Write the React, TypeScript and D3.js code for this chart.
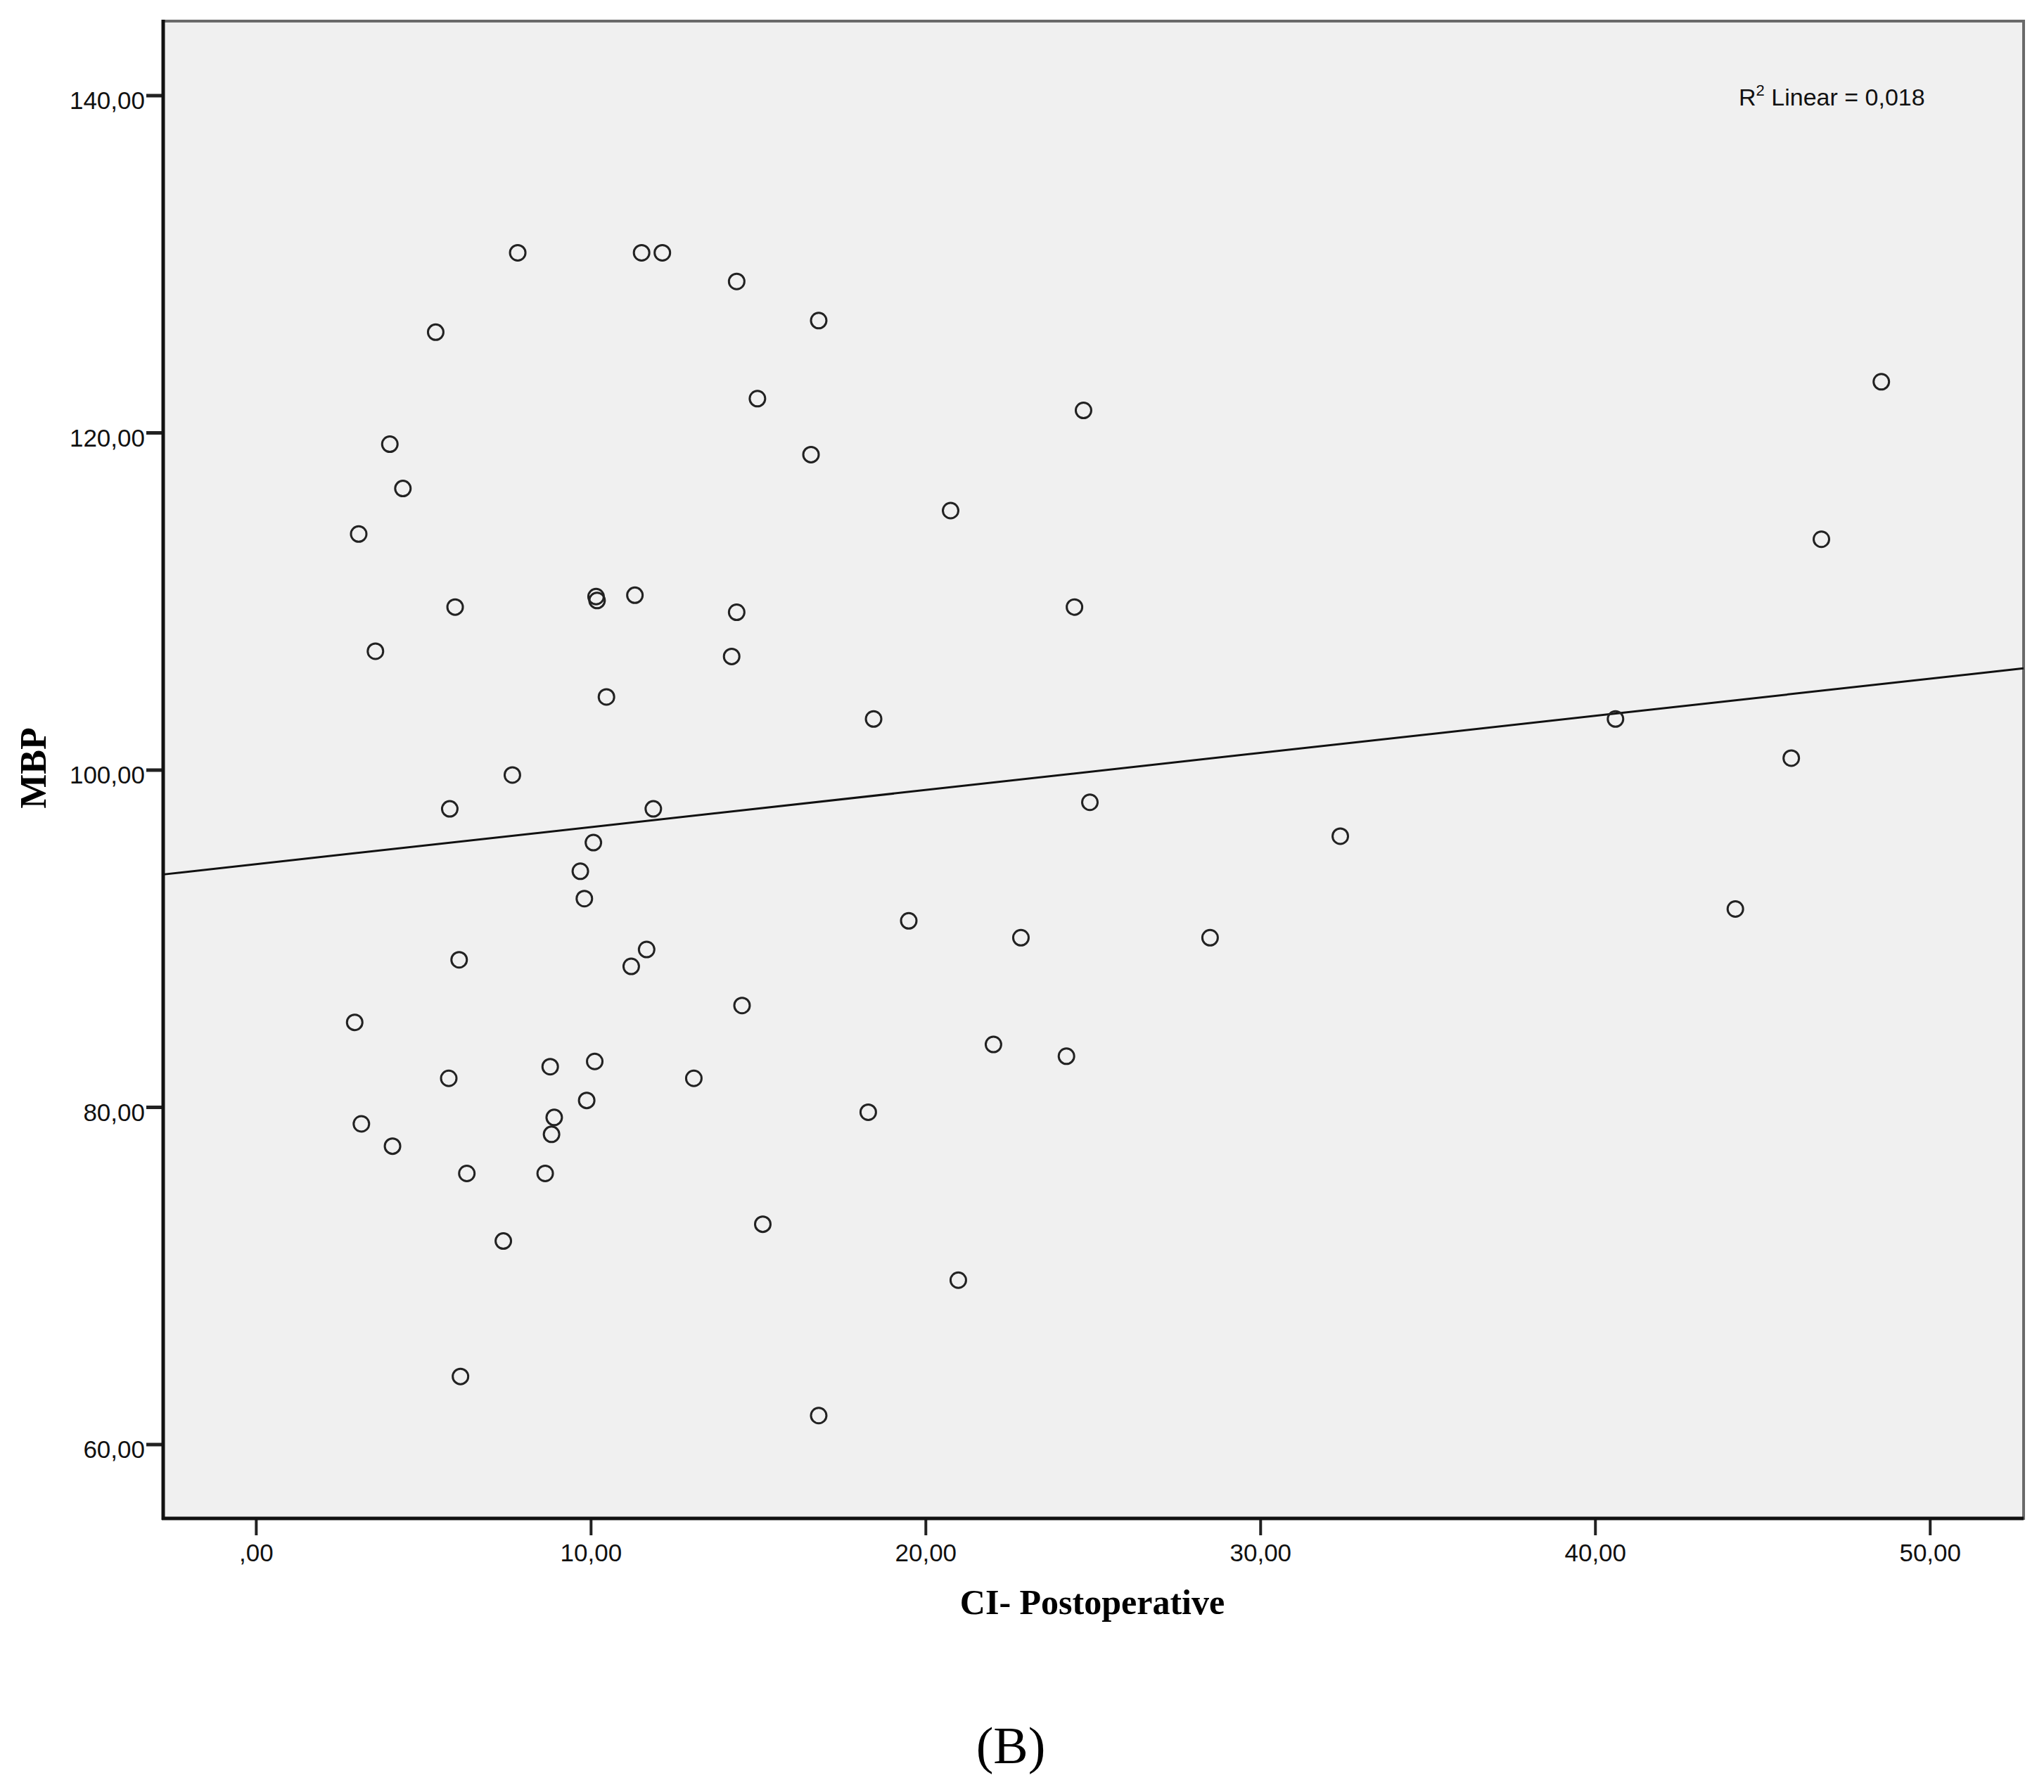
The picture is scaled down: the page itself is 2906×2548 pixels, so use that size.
import React, { useEffect, useRef } from 'react';
import * as d3 from 'd3';

// CI- Postoperative (x) and MBP (y)
const ciPostop = [
  7.82, 11.52, 12.14, 14.36, 16.81, 5.37, 14.98, 48.55, 24.72, 4.0,
  16.58, 4.39, 20.75, 3.07, 46.76, 10.16, 10.19, 11.32, 5.95, 14.36,
  24.45, 3.57, 14.21, 10.47, 18.45, 40.61, 45.86, 7.66, 5.79, 11.87,
  24.91, 10.08, 32.39, 9.69, 9.81, 44.19, 19.5, 22.85, 28.5, 6.07,
  11.67, 11.21, 14.52, 2.95, 22.03, 24.21, 10.12, 8.79, 5.76, 13.08,
  9.88, 18.29, 8.91, 3.15, 8.83, 4.08, 6.3, 8.64, 15.14, 7.39,
  20.98, 6.11, 16.81,
];
const mbp = [
  130.66, 130.66, 130.66, 128.96, 126.64, 125.95, 122.01, 123.01, 121.31, 119.31,
  118.69, 116.68, 115.37, 113.98, 113.67, 110.27, 110.04, 110.35, 109.65, 109.34,
  109.65, 107.03, 106.72, 104.32, 103.01, 103.01, 100.69, 99.69, 97.68, 97.68,
  98.07, 95.68, 96.06, 93.98, 92.36, 91.74, 91.04, 90.04, 90.04, 88.73,
  89.34, 88.34, 86.02, 85.02, 83.71, 83.01, 82.7, 82.39, 81.7, 81.7,
  80.39, 79.69, 79.38, 79.0, 78.38, 77.68, 76.06, 76.06, 73.05, 72.05,
  69.73, 64.02, 61.7,
];

const xTicks = [0, 10, 20, 30, 40, 50];
const yTicks = [60, 80, 100, 120, 140];

// fitted line as shown in the figure
const fitIntercept = 94.4;
const fitSlope = 0.22;
const r2Label = '0,018';

const fmt = (v: number) => {
  const s = v.toFixed(2).replace('.', ',');
  return s.startsWith('0,') ? s.slice(1) : s;
};

const ScatterChart: React.FC = () => {
  const svgRef = useRef<SVGSVGElement>(null);
  const width = 2906;
  const height = 2548;

  useEffect(() => {
    if (!svgRef.current) return;
    const svg = d3.select(svgRef.current);
    svg.selectAll('*').remove();

    const plot = { left: 232, top: 30, right: 2877, bottom: 2159 };

    const x = d3.scaleLinear().domain([-2.77, 52.8]).range([plot.left, plot.right]);
    const y = d3.scaleLinear().domain([55.6, 144.4]).range([plot.bottom, plot.top]);

    svg.append('rect').attr('width', width).attr('height', height).attr('fill', '#ffffff');

    svg
      .append('rect')
      .attr('x', plot.left)
      .attr('y', plot.top)
      .attr('width', plot.right - plot.left)
      .attr('height', plot.bottom - plot.top)
      .attr('fill', '#f0f0f0')
      .attr('stroke', '#6a6a6a')
      .attr('stroke-width', 4);

    // axes (SPSS style: black left/bottom lines, outward ticks)
    const xAxis = svg
      .append('g')
      .attr('transform', `translate(0,${plot.bottom})`)
      .call(
        d3
          .axisBottom(x)
          .tickValues(xTicks)
          .tickSize(24)
          .tickPadding(12)
          .tickFormat((d) => fmt(d as number))
      );
    xAxis.select('.domain').remove();
    xAxis.selectAll('line').attr('stroke', '#222').attr('stroke-width', 4);
    xAxis
      .selectAll('text')
      .attr('font-family', '"Liberation Sans", Arial, sans-serif')
      .attr('font-size', 35)
      .attr('fill', '#111');

    const yAxis = svg
      .append('g')
      .attr('transform', `translate(${plot.left},0)`)
      .call(
        d3
          .axisLeft(y)
          .tickValues(yTicks)
          .tickSize(24)
          .tickPadding(2)
          .tickFormat((d) => fmt(d as number))
      );
    yAxis.select('.domain').remove();
    yAxis.selectAll('line').attr('stroke', '#222').attr('stroke-width', 5);
    yAxis
      .selectAll('text')
      .attr('font-family', '"Liberation Sans", Arial, sans-serif')
      .attr('font-size', 35)
      .attr('dy', '0.55em')
      .attr('fill', '#111');

    svg
      .append('line')
      .attr('x1', plot.left)
      .attr('x2', plot.left)
      .attr('y1', plot.top - 2)
      .attr('y2', plot.bottom + 2)
      .attr('stroke', '#111')
      .attr('stroke-width', 5);
    svg
      .append('line')
      .attr('x1', plot.left - 2)
      .attr('x2', plot.right)
      .attr('y1', plot.bottom)
      .attr('y2', plot.bottom)
      .attr('stroke', '#111')
      .attr('stroke-width', 5);

    // regression line across the full x range
    const [x0, x1] = x.domain();
    svg
      .append('line')
      .attr('x1', x(x0))
      .attr('y1', y(fitIntercept + fitSlope * x0))
      .attr('x2', x(x1))
      .attr('y2', y(fitIntercept + fitSlope * x1))
      .attr('stroke', '#111')
      .attr('stroke-width', 3);

    const data: [number, number][] = ciPostop.map((v, i) => [v, mbp[i]]);
    svg
      .append('g')
      .selectAll('circle')
      .data(data)
      .enter()
      .append('circle')
      .attr('cx', (d) => x(d[0]))
      .attr('cy', (d) => y(d[1]))
      .attr('r', 11)
      .attr('fill', 'none')
      .attr('stroke', '#222')
      .attr('stroke-width', 3);

    const r2 = svg
      .append('text')
      .attr('x', 2472)
      .attr('y', 150)
      .attr('font-family', '"Liberation Sans", Arial, sans-serif')
      .attr('font-size', 34)
      .attr('fill', '#111');
    r2.append('tspan').text('R');
    r2.append('tspan').attr('font-size', 22).attr('dy', -14).text('2');
    r2.append('tspan').attr('dy', 14).text(` Linear = ${r2Label}`);

    svg
      .append('text')
      .attr('x', 1553)
      .attr('y', 2295)
      .attr('text-anchor', 'middle')
      .attr('font-family', '"Liberation Serif", "Times New Roman", serif')
      .attr('font-weight', 'bold')
      .attr('font-size', 50)
      .attr('fill', '#000')
      .text('CI- Postoperative');

    svg
      .append('text')
      .attr('transform', 'translate(65,1092) rotate(-90)')
      .attr('text-anchor', 'middle')
      .attr('font-family', '"Liberation Serif", "Times New Roman", serif')
      .attr('font-weight', 'bold')
      .attr('font-size', 52)
      .attr('fill', '#000')
      .text('MBP');

    svg
      .append('text')
      .attr('x', 1437)
      .attr('y', 2507)
      .attr('text-anchor', 'middle')
      .attr('font-family', '"Liberation Serif", "Times New Roman", serif')
      .attr('font-size', 74)
      .attr('fill', '#000')
      .text('(B)');
  }, []);

  return (
    <svg
      ref={svgRef}
      width={width}
      height={height}
      style={{ position: 'absolute', left: 0, top: 0, display: 'block' }}
    />
  );
};

export default function App() {
  return <ScatterChart />;
}
